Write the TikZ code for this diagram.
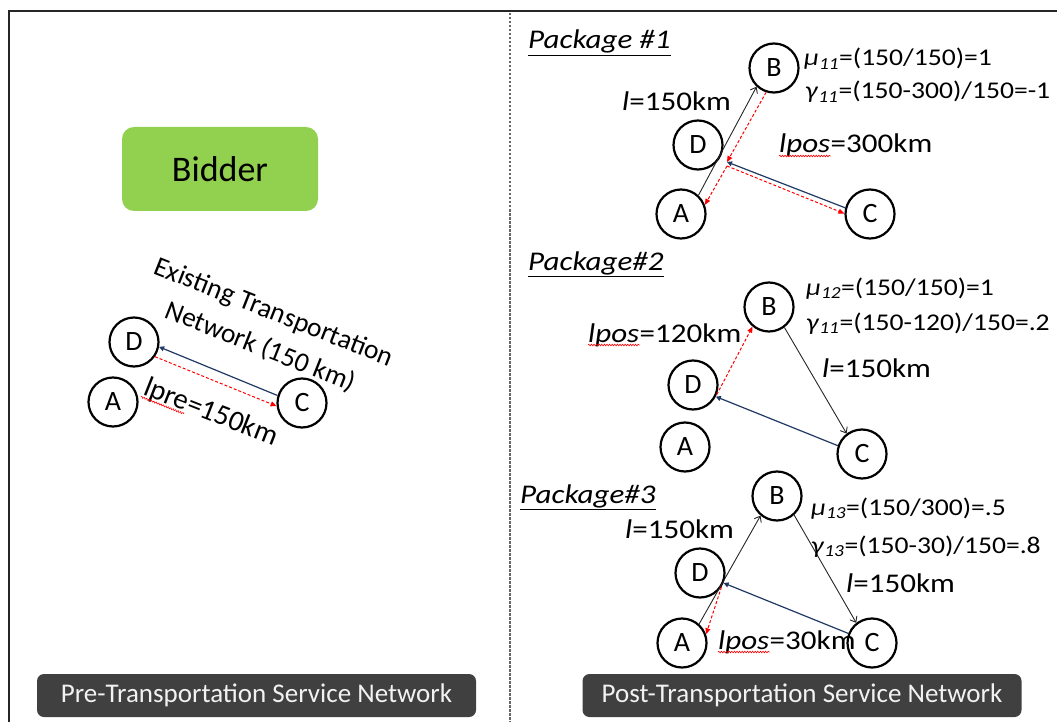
\documentclass[tikz,border=0pt]{standalone}
\usepackage{fontspec}
\setmainfont{Carlito}
\newfontfamily\widefam[FakeStretch=1.15]{Carlito}
\usetikzlibrary{arrows.meta,decorations.pathmorphing}
\definecolor{leaf}{HTML}{92D050}
\definecolor{slate}{HTML}{404040}
\definecolor{navy}{HTML}{203864}
\definecolor{paper}{HTML}{F2F2F2}
\tikzset{
  station/.style={circle, draw=black, line width=2.2pt, minimum size=49pt, inner sep=0pt,
    font=\fontsize{28}{28}\selectfont},
  tag/.style={inner sep=0pt, anchor=base west, font=\widefam\fontsize{27}{32}\selectfont},
  eqn/.style={inner sep=0pt, anchor=base west, font=\widefam\fontsize{24}{30}\selectfont},
  head/.style={inner sep=0pt, anchor=base west, font=\widefam\itshape\fontsize{27}{32}\selectfont},
  road/.style={draw=black!85, line width=0.9pt, -{Straight Barb[length=5pt,width=8pt]}},
  back/.style={draw=navy, line width=1.2pt, -{Triangle[length=5pt,width=5pt]}},
  route/.style={draw=red, line width=1pt, dash pattern=on 3pt off 2pt, -{Triangle[length=6pt,width=5pt]}},
  spell/.style={draw=red, line width=0.6pt, decorate, decoration={snake, amplitude=0.8pt, segment length=2.6pt}},
  banner/.style={fill=slate, text=paper, rounded corners=7pt, minimum width=439pt, minimum height=43pt,
    inner sep=0pt, font=\fontsize{27}{27}\selectfont},
}
\begin{document}
\begin{tikzpicture}[x=1pt,y=-1pt]
\useasboundingbox (0,0) rectangle (1057,722);

% frame and divider
\draw[line width=2pt, black!85] (9,722) -- (9,11) -- (1057,11);
\draw[line width=1.3pt, black!60, dash pattern=on 2.5pt off 1.5pt] (510,13) -- (510,722);

% ---------- left half: existing network ----------
\node[fill=leaf, rounded corners=12pt, minimum width=196pt, minimum height=84pt, inner sep=0pt,
  font=\fontsize{36}{36}\selectfont] (bidder) at (220,169) {Bidder};

\node[rotate=-21.5, align=center, inner sep=0pt, font=\fontsize{27.5}{37}\selectfont] (exist) at (267,330)
  {Existing Transportation\\Network (150 km)};

\node[station] (D0) at (134,342) {D};
\node[station] (A0) at (113,402) {A};
\node[station] (C0) at (302,403) {C};
\draw[back] (C0.163) -- (D0.-11);
\draw[route] (D0.-35) -- (C0.187);

\begin{scope}[shift={(142,394)}, rotate=-21.5, transform shape]
  \node[anchor=base west, inner sep=0pt, font=\fontsize{29}{32}\selectfont] (lpre) at (0,0) {lpre};
  \node[anchor=base west, inner sep=0pt, font=\fontsize{29}{32}\selectfont] (lprev) at (lpre.base east) {=150km};
  \draw[spell] ([yshift=-3pt]lpre.base west) -- ([yshift=-3pt]lpre.base east);
\end{scope}

\node[banner] (pre) at (256.5,695.5) {Pre-Transportation Service Network};

% ---------- right half: package 1 ----------
\node[head] (pk1) at (528,49) {\underline{Package \#1}};
\node[station] (B1) at (774,68) {B};
\node[station] (D1) at (698,145) {D};
\node[station] (A1) at (681,214) {A};
\node[station] (C1) at (870,214) {C};
\coordinate (J1) at (727,162);
\coordinate (J1b) at (727,166);
\draw[road] (A1.47) -- (B1.227);
\draw[route] (B1.252) -- (J1);
\draw[route] (J1b) -- (A1.21);
\draw[back] (C1.166) -- (J1);
\draw[route] (J1b) -- (C1.179);

\node[eqn] (mu1) at (804,66) {\textit{μ}\textsubscript{\textit{11}}=(150/150)=1};
\node[eqn] (ga1) at (805,99) {\textit{γ}\textsubscript{\textit{11}}=(150-300)/150=-1};
\node[tag] (len1) at (622,111) {\textit{l}=150km};
\node[tag] (lp1) at (779,153) {\textit{lpos}};
\node[tag] (lp1v) at (lp1.base east) {=300km};
\draw[spell] ([yshift=-3pt]lp1.base west) -- ([yshift=-3pt]lp1.base east);

% ---------- package 2 ----------
\node[head] (pk2) at (528,270) {\underline{Package\#2}};
\node[station] (B2) at (769,307) {B};
\node[station] (D2) at (693,385) {D};
\node[station] (A2) at (685,447) {A};
\node[station] (C2) at (862,454) {C};
\draw[road] (B2.-53) -- (C2.127);
\draw[back] (C2.161) -- (D2.-27);
\draw[route] (D2.-22) -- (B2.230);

\node[eqn] (mu2) at (806,295) {\textit{μ}\textsubscript{\textit{12}}=(150/150)=1};
\node[eqn] (ga2) at (806,330) {\textit{γ}\textsubscript{\textit{11}}=(150-120)/150=.2};
\node[tag] (lp2) at (588,342) {\textit{lpos}};
\node[tag] (lp2v) at (lp2.base east) {=120km};
\draw[spell] ([yshift=-3pt]lp2.base west) -- ([yshift=-3pt]lp2.base east);
\node[tag] (len2) at (822,377) {\textit{l}=150km};

% ---------- package 3 ----------
\node[head] (pk3) at (520,503) {\underline{Package\#3}};
\node[station] (B3) at (777,496) {B};
\node[station] (D3) at (700,573) {D};
\node[station] (A3) at (682,643) {A};
\node[station] (C3) at (872,643) {C};
\draw[road] (A3.48) -- (B3.230);
\draw[road] (B3.-48) -- (C3.128);
\draw[back] (C3.158) -- (D3.-23);
\draw[route] (D3.-33) -- (A3.20);

\node[eqn] (mu3) at (811,515) {\textit{μ}\textsubscript{\textit{13}}=(150/300)=.5};
\node[eqn] (ga3) at (811,553) {\textit{γ}\textsubscript{\textit{13}}=(150-30)/150=.8};
\node[tag] (len3a) at (625,538) {\textit{l}=150km};
\node[tag] (len3b) at (846,592) {\textit{l}=150km};
\node[tag] (lp3) at (718,649) {\textit{lpos}};
\node[tag] (lp3v) at (lp3.base east) {=30km};
\draw[spell] ([yshift=-3pt]lp3.base west) -- ([yshift=-3pt]lp3.base east);

\node[banner] (post) at (802,695.5) {Post-Transportation Service Network};
\end{tikzpicture}
\end{document}
